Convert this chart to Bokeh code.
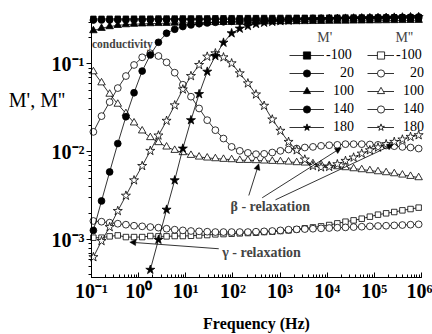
import numpy as np
from bokeh.plotting import figure
from bokeh.models import (Label, Arrow, NormalHead, Legend, LegendItem, Range1d,
                          CustomJSTickFormatter)
from bokeh.core.properties import value
from bokeh.embed import file_html
from bokeh.resources import INLINE

# measurement frequency grid (Hz), log spaced
freq = np.logspace(-0.96, 5.94, 41)

# log10 of M' (filled markers)
mp_m100 = [-0.486, -0.486, -0.485, -0.485, -0.485, -0.484, -0.484, -0.484, -0.483, -0.483,
           -0.483, -0.482, -0.482, -0.481, -0.481, -0.480, -0.480, -0.479, -0.479, -0.478,
           -0.478, -0.477, -0.477, -0.476, -0.476, -0.475, -0.475, -0.474, -0.474, -0.473,
           -0.473, -0.472, -0.472, -0.471, -0.471, -0.470, -0.470, -0.469, -0.469, -0.468, -0.468]
mp_20 = [-0.500, -0.499, -0.499, -0.498, -0.498, -0.497, -0.497, -0.496, -0.496, -0.495,
         -0.495, -0.494, -0.494, -0.493, -0.493, -0.492, -0.492, -0.491, -0.491, -0.490,
         -0.490, -0.489, -0.489, -0.488, -0.488, -0.487, -0.487, -0.486, -0.486, -0.485,
         -0.485, -0.484, -0.484, -0.483, -0.483, -0.482, -0.482, -0.481, -0.480, -0.479, -0.478]
mp_100 = [-0.620, -0.593, -0.574, -0.560, -0.552, -0.547, -0.543, -0.540, -0.538, -0.536,
          -0.534, -0.532, -0.530, -0.529, -0.528, -0.527, -0.526, -0.525, -0.524, -0.523,
          -0.522, -0.521, -0.520, -0.519, -0.518, -0.517, -0.516, -0.515, -0.514, -0.513,
          -0.512, -0.511, -0.510, -0.509, -0.508, -0.507, -0.506, -0.505, -0.504, -0.503, -0.502]
mp_140 = [-2.893, -2.558, -2.228, -1.905, -1.600, -1.327, -1.080, -0.897, -0.753, -0.650,
          -0.605, -0.574, -0.555, -0.542, -0.533, -0.526, -0.520, -0.515, -0.511, -0.508,
          -0.505, -0.503, -0.501, -0.499, -0.497, -0.495, -0.493, -0.491, -0.489, -0.487,
          -0.485, -0.483, -0.481, -0.479, -0.477, -0.475, -0.473, -0.471, -0.469, -0.467, -0.465]
mp_180 = [np.nan, np.nan, np.nan, np.nan, np.nan, np.nan, np.nan, -3.341, -2.999, -2.657,
          -2.323, -1.962, -1.639, -1.342, -1.087, -0.909, -0.757, -0.650, -0.597, -0.567,
          -0.544, -0.530, -0.520, -0.512, -0.506, -0.501, -0.497, -0.494, -0.491, -0.488,
          -0.486, -0.484, -0.482, -0.480, -0.478, -0.476, -0.474, -0.472, -0.470, -0.468, -0.466]

# log10 of M'' (open markers)
mpp_m100 = [-2.976, -2.976, -2.961, -2.950, -2.969, -2.969, -2.969, -2.957, -2.961, -2.961,
            -2.957, -2.957, -2.954, -2.950, -2.946, -2.938, -2.935, -2.931, -2.927, -2.923,
            -2.919, -2.912, -2.908, -2.900, -2.893, -2.881, -2.870, -2.859, -2.847, -2.832,
            -2.813, -2.794, -2.779, -2.760, -2.737, -2.714, -2.699, -2.684, -2.665, -2.650, -2.634]
mpp_20 = [-2.786, -2.794, -2.805, -2.817, -2.828, -2.840, -2.847, -2.855, -2.862, -2.874,
          -2.885, -2.893, -2.900, -2.904, -2.908, -2.912, -2.912, -2.912, -2.912, -2.912,
          -2.908, -2.904, -2.900, -2.893, -2.885, -2.881, -2.878, -2.874, -2.870, -2.866,
          -2.862, -2.859, -2.855, -2.851, -2.847, -2.843, -2.840, -2.836, -2.832, -2.828, -2.824]
mpp_100 = [-1.087, -1.213, -1.342, -1.456, -1.563, -1.669, -1.760, -1.836, -1.893, -1.943,
           -1.981, -2.007, -2.038, -2.057, -2.068, -2.076, -2.083, -2.087, -2.095, -2.095,
           -2.098, -2.102, -2.106, -2.110, -2.114, -2.121, -2.125, -2.133, -2.144, -2.155,
           -2.167, -2.178, -2.190, -2.201, -2.212, -2.224, -2.235, -2.247, -2.262, -2.277, -2.292]
mpp_140 = [-1.772, -1.593, -1.433, -1.274, -1.137, -1.011, -0.924, -0.878, -0.909, -0.981,
           -1.099, -1.236, -1.372, -1.506, -1.639, -1.753, -1.848, -1.943, -1.988, -2.011,
           -2.026, -2.022, -2.007, -1.988, -1.973, -1.962, -1.950, -1.943, -1.931, -1.924,
           -1.920, -1.912, -1.912, -1.912, -1.916, -1.920, -1.927, -1.935, -1.943, -1.950, -1.962]
mpp_180 = [-3.197, -3.014, -2.855, -2.672, -2.498, -2.323, -2.160, -1.988, -1.813, -1.646,
           -1.470, -1.289, -1.137, -1.011, -0.916, -0.878, -0.924, -0.992, -1.106, -1.220,
           -1.346, -1.475, -1.631, -1.760, -1.886, -1.981, -2.087, -2.160, -2.175, -2.170,
           -2.140, -2.102, -2.064, -2.019, -1.981, -1.950, -1.912, -1.886, -1.859, -1.829, -1.810]

temps = ["-100", "20", "100", "140", "180"]
legend_labels = ["-100", "\u2007\u200720", "\u2007100", "\u2007140", "\u2007180"]
markers = ["square", "circle", "triangle", "circle", "star"]
sizes = [5.5, 6.8, 7.5, 6.8, 9.5]
mp_series = [mp_m100, mp_20, mp_100, mp_140, mp_180]
mpp_series = [mpp_m100, mpp_20, mpp_100, mpp_140, mpp_180]

# visible data window (axes bounds)
X_MIN, X_MAX = 0.1, 1e6
Y_MIN, Y_MAX = 10 ** -3.429, 10 ** -0.471

FONT = "Liberation Serif"

# frame covers the whole canvas; axes drawn at fixed data locations
p = figure(width=432, height=334, x_axis_type="log", y_axis_type="log",
           x_range=Range1d(10 ** -2.9304, 10 ** 6.2337), y_range=Range1d(10 ** -4.0774, 10 ** -0.2776),
           output_backend="svg", toolbar_location=None,
           min_border_left=0, min_border_right=0, min_border_top=0, min_border_bottom=0)
p.outline_line_color = None
p.grid.visible = False
p.background_fill_color = "white"
p.border_fill_color = "white"

def draw(vals, marker, size, filled):
    y = 10 ** np.array(vals, dtype=float)
    lr = p.line(freq, y, line_color="black", line_width=0.8)
    sr = p.scatter(freq, y, marker=marker, size=size, line_color="black", line_width=0.8,
                   fill_color="black" if filled else "white")
    return lr, sr

mpp_r = [draw(v, m, s, False) for v, m, s in zip(mpp_series, markers, sizes)]
mp_r = [draw(v, m, s, True) for v, m, s in zip(mp_series, markers, sizes)]

expo_fmt = CustomJSTickFormatter(code="""
const e = Math.round(Math.log10(tick)).toString();
const m = {"-": "\\u207b", "0": "\\u2070", "1": "\\u00b9", "2": "\\u00b2", "3": "\\u00b3",
           "4": "\\u2074", "5": "\\u2075", "6": "\\u2076", "7": "\\u2077", "8": "\\u2078", "9": "\\u2079"};
let s = "10";
for (const c of e) { s += m[c]; }
return s;
""")

# axes
for ax in (p.xaxis[0], p.yaxis[0]):
    ax.formatter = expo_fmt
    ax.axis_line_color = "black"
    ax.major_tick_line_color = "black"
    ax.minor_tick_line_color = "black"
    ax.major_label_text_font = FONT
    ax.major_label_text_font_style = "bold"
    ax.major_label_text_font_size = "20px"
    ax.major_label_text_color = "black"

xa = p.xaxis[0]
xa.fixed_location = Y_MIN
xa.bounds = (X_MIN, X_MAX)
xa.major_tick_in = 5
xa.major_tick_out = 0
xa.minor_tick_in = 3
xa.minor_tick_out = 0
xa.major_label_standoff = 2

ya = p.yaxis[0]
ya.fixed_location = X_MIN
ya.bounds = (Y_MIN, Y_MAX)
ya.major_tick_in = 0
ya.major_tick_out = 5
ya.minor_tick_in = 0
ya.minor_tick_out = 3
ya.major_label_standoff = 2

# axis titles
p.add_layout(Label(x=10 ** 2.5, y=10 ** -3.952, text="Frequency (Hz)", text_font=FONT,
                   text_font_style="bold", text_font_size="16px", text_baseline="middle",
                   text_align="center", text_color="black"))
p.add_layout(Label(x=10 ** -2.754, y=10 ** -1.415, text="M', M''", text_font=FONT,
                   text_font_size="20px", text_baseline="middle", text_align="left",
                   text_color="black"))

# annotations
p.add_layout(Label(x=10 ** -0.989, y=10 ** -0.767, text="conductivity", text_font=FONT,
                   text_font_style="bold", text_font_size="11.5px", text_baseline="middle"))
p.add_layout(Label(x=10 ** 1.949, y=10 ** -2.619, text="\u03b2 - relaxation", text_font=FONT,
                   text_font_style="bold", text_font_size="14px", text_baseline="middle"))
p.add_layout(Label(x=10 ** 1.773, y=10 ** -3.148, text="\u03b3 - relaxation", text_font=FONT,
                   text_font_style="bold", text_font_size="14px", text_baseline="middle"))

arrows = [((1.700, -3.102), (-0.188, -3.027)),
          ((2.337, -2.496), (2.549, -2.135)),
          ((2.621, -2.522), (4.297, -1.953)),
          ((2.903, -2.545), (5.400, -1.916))]
for (xs, ys), (xe, ye) in arrows:
    p.add_layout(Arrow(end=NormalHead(size=6, fill_color="black", line_color="black", line_width=0.5),
                       x_start=10 ** xs, y_start=10 ** ys, x_end=10 ** xe, y_end=10 ** ye,
                       line_color="black", line_width=0.8))

# legend headers
p.add_layout(Label(x=10 ** 3.788, y=10 ** -0.702, text="M'", text_font=FONT,
                   text_font_size="14px", text_baseline="middle"))
p.add_layout(Label(x=10 ** 5.449, y=10 ** -0.702, text="M''", text_font=FONT,
                   text_font_size="14px", text_baseline="middle"))

def make_legend(rends, loc, gw):
    items = [LegendItem(label=value(lab), renderers=[lr, sr]) for lab, (lr, sr) in zip(legend_labels, rends)]
    leg = Legend(items=items, location=loc, glyph_width=gw, glyph_height=18, label_height=18,
                 label_standoff=2, spacing=0, padding=0, margin=0, border_line_color=None,
                 background_fill_alpha=0, label_text_font=FONT, label_text_font_size="14px",
                 label_text_color="black")
    p.add_layout(leg)

make_legend(mp_r, (289, 198), 35)
make_legend(mpp_r, (367, 198), 27)

open("out.html", "w").write(file_html(p, INLINE))
